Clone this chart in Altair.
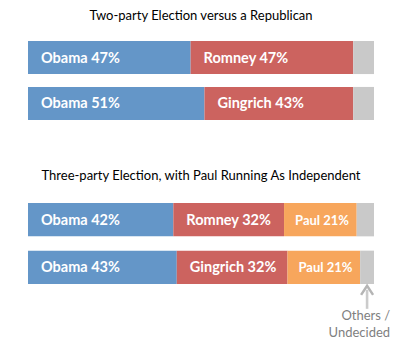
import altair as alt
import pandas as pd

# ---- data ----
two_matchups = ["Obama vs Romney", "Obama vs Gingrich"]
two_obama = [47, 51]
two_rep_names = ["Romney", "Gingrich"]
two_rep = [47, 43]
two_others = [6, 6]

three_matchups = ["Obama vs Romney vs Paul", "Obama vs Gingrich vs Paul"]
three_obama = [42, 43]
three_rep_names = ["Romney", "Gingrich"]
three_rep = [32, 32]
three_paul = [21, 21]
three_others = [5, 4]

parties = ["Obama", "Republican", "Paul", "Others"]
colors = ["#6496c8", "#cc635f", "#f7a65c", "#c9c9c9"]

title_two = "Two-party Election versus a Republican"
title_three = "Three-party Election, with Paul Running As Independent"
note_text = "Others /\nUndecided"


def build(matchups, series):
    rows = []
    for i, m in enumerate(matchups):
        start = 0
        for order, (party, names, values) in enumerate(series):
            v = values[i]
            name = names[i] if names is not None else None
            label = f"{name} {v}%" if name else ""
            rows.append(dict(matchup=m, party=party, value=v, start=start,
                             end=start + v, label=label, order=order))
            start += v
    return pd.DataFrame(rows)


df_two = build(two_matchups, [
    ("Obama", ["Obama"] * 2, two_obama),
    ("Republican", two_rep_names, two_rep),
    ("Others", None, two_others),
])
df_three = build(three_matchups, [
    ("Obama", ["Obama"] * 2, three_obama),
    ("Republican", three_rep_names, three_rep),
    ("Paul", ["Paul"] * 2, three_paul),
    ("Others", None, three_others),
])

FONT = "Lato"
XS = alt.Scale(domain=[0, 100], nice=False)


def panel_layers(df, matchups, pad_inner):
    ys = alt.Scale(domain=matchups, paddingInner=pad_inner, paddingOuter=0)
    base = alt.Chart(df)
    bars = base.mark_bar().encode(
        x=alt.X("start:Q", scale=XS, axis=None),
        x2="end:Q",
        y=alt.Y("matchup:N", scale=ys, axis=None),
        color=alt.Color("party:N", scale=alt.Scale(domain=parties, range=colors), legend=None),
    )
    big = base.transform_filter(
        alt.FieldOneOfPredicate(field="party", oneOf=["Obama", "Republican"])
    ).mark_text(align="left", baseline="middle", dx=13, dy=1, color="white",
                font=FONT, fontSize=14.5, fontWeight="bold").encode(
        x="start:Q", y="matchup:N", text="label:N")
    small = base.transform_filter(
        alt.FieldEqualPredicate(field="party", equal="Paul")
    ).mark_text(align="left", baseline="middle", dx=11, dy=1, color="white",
                font=FONT, fontSize=13, fontWeight="bold").encode(
        x="start:Q", y="matchup:N", text="label:N")
    return [bars, big, small]


l1 = panel_layers(df_two, two_matchups, 0.28)
l2 = panel_layers(df_three, three_matchups, 0.3)

note_df = pd.DataFrame({
    "matchup": [three_matchups[-1]],
    "pos": [100 - three_others[-1] / 2],
    "note": [note_text],
})
nb = alt.Chart(note_df)
shaft = nb.mark_tick(orient="vertical", size=19, thickness=2.6, color="#b5b5b5",
                     yOffset=32).encode(x="pos:Q", y="matchup:N")
head = nb.mark_point(shape="M-1,0.75L0,-0.75L1,0.75", filled=False, strokeWidth=2.5,
                     size=144, color="#b5b5b5", yOffset=23, opacity=1).encode(
    x="pos:Q", y="matchup:N")
label = nb.mark_text(align="right", baseline="middle", dx=23, yOffset=49,
                     lineHeight=17, lineBreak="\n", font=FONT, fontSize=13,
                     color="#7f7f7f").encode(
    x="pos:Q", y="matchup:N", text="note:N")

c1 = alt.layer(*l1).properties(
    width=346, height=79, title=alt.TitleParams(title_two, offset=18))
c2 = alt.layer(*l2, shaft, head, label).properties(
    width=346, height=81, title=alt.TitleParams(title_three, offset=20))

chart = alt.vconcat(c1, c2, spacing=50).properties(
    padding={"left": 28, "top": 10, "right": 8, "bottom": 4}
).configure_view(stroke=None).configure_title(
    font=FONT, fontSize=13, fontWeight="normal", color="black",
    anchor="middle"
)

chart.save("out.html", embed_options={"renderer": "svg", "actions": False})
